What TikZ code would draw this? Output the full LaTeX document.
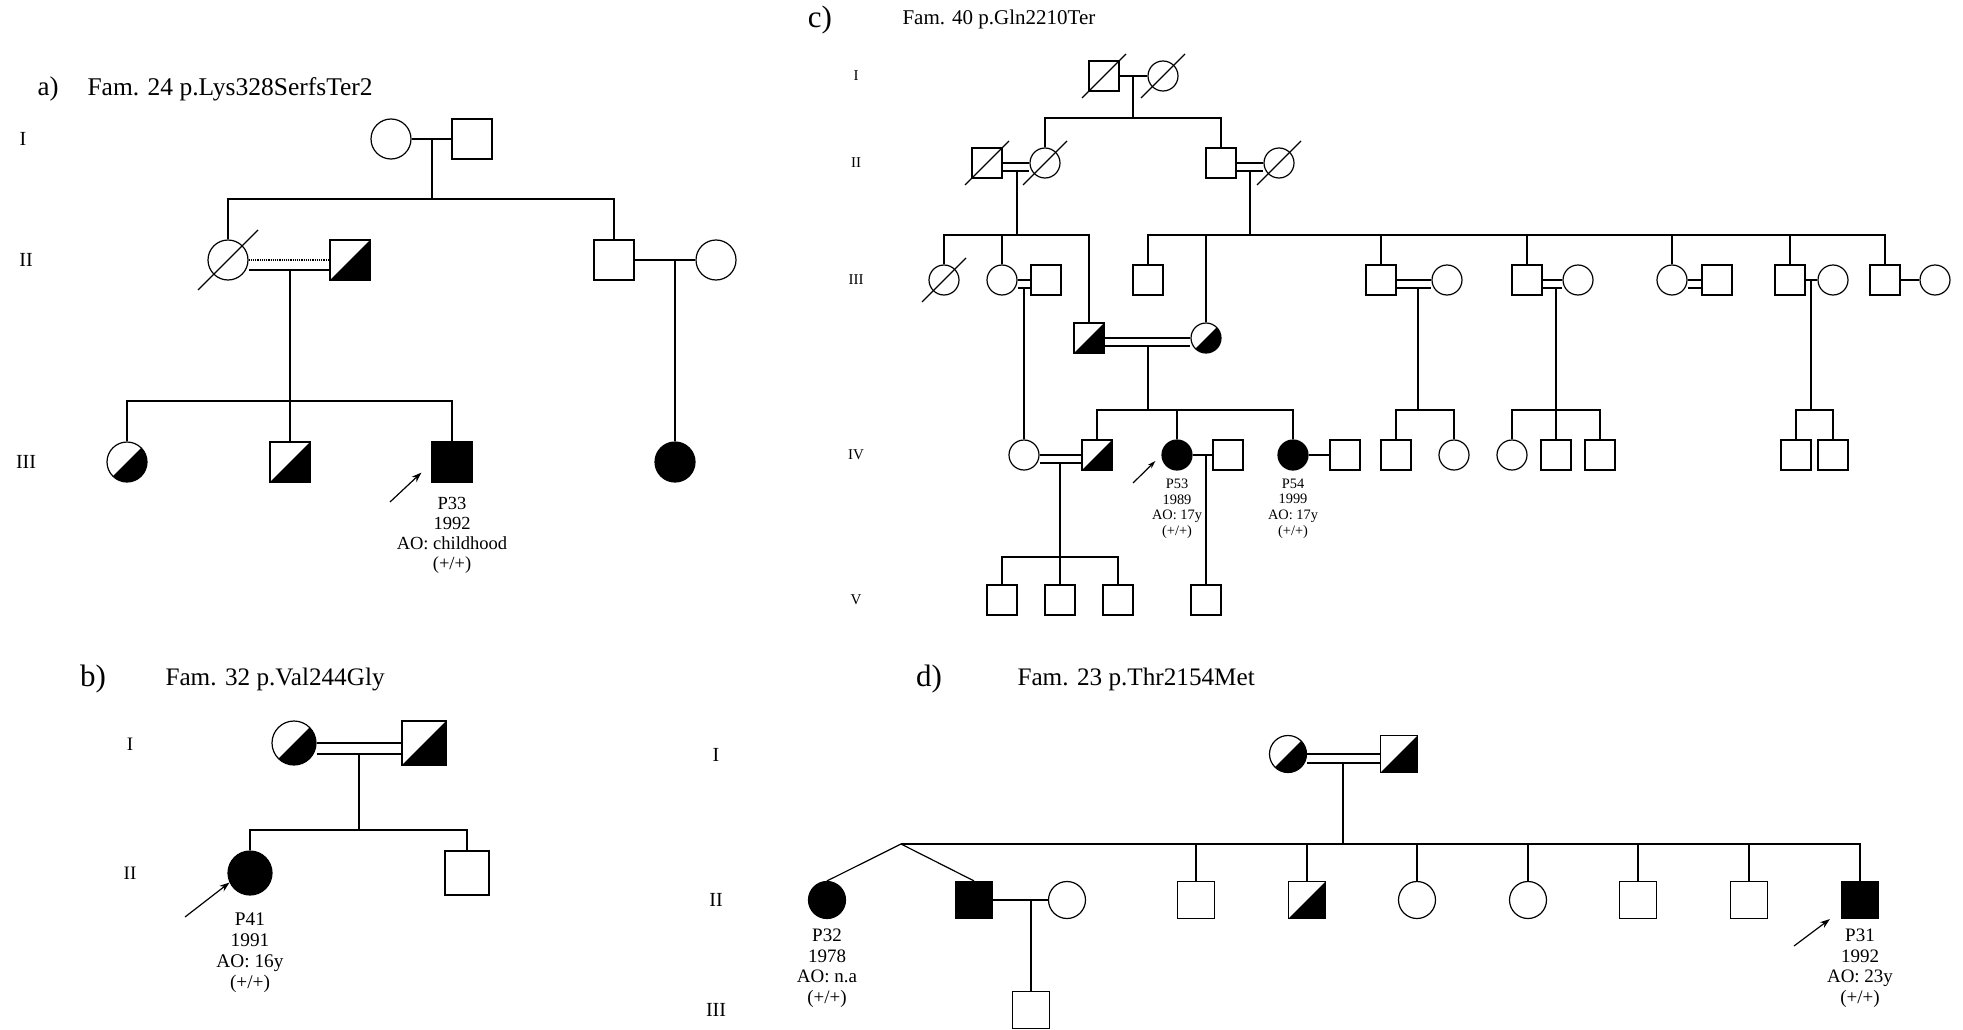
\documentclass[tikz,border=0pt]{standalone}
\usepackage{fontspec}
\setmainfont{Liberation Serif}
\usetikzlibrary{arrows.meta,positioning}

\tikzset{
  sq/.style={draw,rectangle,minimum size=#1,inner sep=0pt,line width=1.2pt},
  ci/.style={draw,circle,minimum size=#1,inner sep=0pt,line width=1.2pt},
  aff/.style={fill=black},
  car/.style={path picture={\fill (path picture bounding box.south west) -- (path picture bounding box.north east) -- (path picture bounding box.south east) -- cycle;}},
  rel/.style={line width=1.2pt},
  gen/.style={font=\fontsize{#1}{#1}\selectfont},
  ttl/.style={anchor=west,font=\fontsize{#1}{#1}\selectfont},
  lab/.style={font=\fontsize{#1}{#1}\selectfont},
  info/.style args={#1/#2}{align=center,inner sep=0pt,font=\fontsize{#1}{#2}\selectfont},
  proband/.style={-{Stealth[length=10pt,width=7pt]},line width=1.2pt},
}

\begin{document}
\begin{tikzpicture}[x=1pt,y=-1pt]
\useasboundingbox (0,0) rectangle (1963,1030);

% a)
\node[lab=27] (alab) at (48,89) {a)};
\node[ttl=25.5] (attl) at (84,89) {Fam. 24 p.Lys328SerfsTer2};
\node[gen=20] (ag1) at (23,139) {I};
\node[gen=20] (ag2) at (26,260) {II};
\node[gen=20] (ag3) at (26,462) {III};
\node[ci=40] (aI1) at (391,139) {};
\node[sq=40] (aI2) at (472,139) {};
\node[ci=40] (aII1) at (228,260) {};
\node[sq=40,car] (aII2) at (350,260) {};
\node[sq=40] (aII3) at (614,260) {};
\node[ci=40] (aII4) at (716,260) {};
\node[ci=40,car] (aIII1) at (127,462) {};
\node[sq=40,car] (aIII2) at (290,462) {};
\node[sq=40,aff] (aIII3) at (452,462) {};
\node[ci=40,aff] (aIII4) at (675,462) {};
\coordinate (a1m) at (432,139);
\coordinate (a1s) at (432,199);
\coordinate (a2m) at (290,270);
\coordinate (a2s) at (290,401);
\coordinate (a3m) at (675,260);
\coordinate (aarr) at (390,502);
\draw[rel] (aI1) -- (aI2);
\draw[rel] (a1m) -- (a1s);
\draw[rel] (aII1.north) |- (a1s) -| (aII3.north);
\draw[rel,densely dotted] (aII1.east) -- (aII2.west);
\draw[rel] ([yshift=-10pt]aII1.east) -- ([yshift=-10pt]aII2.west);
\draw[rel] (aII1.center) +(-30pt,-30pt) -- +(30pt,30pt);
\draw[rel] (a2m) -- (aIII2.north);
\draw[rel] (aIII1.north) |- (a2s) -| (aIII3.north);
\draw[rel] (aII3) -- (aII4);
\draw[rel] (a3m) -- (aIII4.north);
\node[info=18.5/20,below=14pt of aIII3] (aP33) {P33\\1992\\AO: childhood\\(+/+)};
\draw[proband] (aarr) -- ([shift={(-10pt,10pt)}]aIII3.south west);

% b)
\node[lab=31] (blab) at (93,679) {b)};
\node[ttl=25.2] (bttl) at (162,679) {Fam. 32 p.Val244Gly};
\node[gen=19] (bg1) at (130,744) {I};
\node[gen=19] (bg2) at (130,873) {II};
\node[ci=44,car] (bI1) at (294,743) {};
\node[sq=44,car] (bI2) at (424,743) {};
\node[ci=44,aff] (bII1) at (250,873) {};
\node[sq=44] (bII2) at (467,873) {};
\coordinate (b1m) at (359,754);
\coordinate (b1s) at (359,830);
\coordinate (barr) at (185,917);
\draw[rel] (bI1) -- (bI2);
\draw[rel] ([yshift=-11pt]bI1.east) -- ([yshift=-11pt]bI2.west);
\draw[rel] (b1m) -- (b1s);
\draw[rel] (bII1.north) |- (b1s) -| (bII2.north);
\node[info=19.3/21,below=17pt of bII1] (bP41) {P41\\1991\\AO: 16y\\(+/+)};
\draw[proband] (barr) -- (bII1.205);

% c)
\node[lab=31] (clab) at (820,20) {c)};
\node[ttl=21] (cttl) at (899,19) {Fam. 40 p.Gln2210Ter};
\node[gen=15] (cg1) at (856,76) {I};
\node[gen=15] (cg2) at (856,163) {II};
\node[gen=15] (cg3) at (856,280) {III};
\node[gen=15] (cg4) at (856,455) {IV};
\node[gen=15] (cg5) at (856,600) {V};
\node[sq=30] (cI1) at (1104,76) {};
\node[ci=30] (cI2) at (1163,76) {};
\node[sq=30] (cII1) at (987,163) {};
\node[ci=30] (cII2) at (1045,163) {};
\node[sq=30] (cII3) at (1221,163) {};
\node[ci=30] (cII4) at (1279,163) {};
\node[ci=30] (cIII1) at (944,280) {};
\node[ci=30] (cIII2) at (1002,280) {};
\node[sq=30] (cIII3) at (1046,280) {};
\node[sq=30,car] (cIII4) at (1089,338) {};
\node[ci=30,car] (cIII5) at (1206,338) {};
\node[sq=30] (cIII6) at (1148,280) {};
\node[sq=30] (cIII7) at (1381,280) {};
\node[ci=30] (cIII8) at (1447,280) {};
\node[sq=30] (cIII9) at (1527,280) {};
\node[ci=30] (cIII10) at (1578,280) {};
\node[ci=30] (cIII11) at (1672,280) {};
\node[sq=30] (cIII12) at (1717,280) {};
\node[sq=30] (cIII13) at (1790,280) {};
\node[ci=30] (cIII14) at (1833,280) {};
\node[sq=30] (cIII15) at (1885,280) {};
\node[ci=30] (cIII16) at (1935,280) {};
\node[ci=30] (cIV1) at (1024,455) {};
\node[sq=30,car] (cIV2) at (1097,455) {};
\node[ci=30,aff] (cIV3) at (1177,455) {};
\node[sq=30] (cIV4) at (1228,455) {};
\node[ci=30,aff] (cIV5) at (1293,455) {};
\node[sq=30] (cIV6) at (1345,455) {};
\node[sq=30] (cIV7) at (1396,455) {};
\node[ci=30] (cIV8) at (1454,455) {};
\node[ci=30] (cIV9) at (1512,455) {};
\node[sq=30] (cIV10) at (1556,455) {};
\node[sq=30] (cIV11) at (1600,455) {};
\node[sq=30] (cIV12) at (1796,455) {};
\node[sq=30] (cIV13) at (1833,455) {};
\node[sq=30] (cV1) at (1002,600) {};
\node[sq=30] (cV2) at (1060,600) {};
\node[sq=30] (cV3) at (1118,600) {};
\node[sq=30] (cV4) at (1206,600) {};
\coordinate (c1m) at (1133,76);
\coordinate (c1s) at (1133,118);
\coordinate (c2m) at (1017,171);
\coordinate (c2s) at (1017,235);
\coordinate (c3m) at (1250,171);
\coordinate (c3s) at (1250,235);
\coordinate (c4m) at (1024,288);
\coordinate (c5m) at (1148,346);
\coordinate (c5s) at (1148,410);
\coordinate (c6m) at (1418,288);
\coordinate (c6s) at (1418,410);
\coordinate (c7m) at (1556,288);
\coordinate (c7s) at (1556,410);
\coordinate (c8m) at (1811,280);
\coordinate (c8s) at (1811,410);
\coordinate (c9m) at (1060,463);
\coordinate (c9s) at (1060,557);
\coordinate (c10m) at (1206,455);
\coordinate (carr) at (1133,483);
\foreach \n in {cI1,cI2,cII1,cII2,cII4,cIII1}
  \draw[rel] (\n.center) +(-22pt,-22pt) -- +(22pt,22pt);
\draw[rel] (cI1) -- (cI2);
\draw[rel] (c1m) -- (c1s);
\draw[rel] (cII2.north) |- (c1s) -| (cII3.north);
\foreach \a/\b in {cII1/cII2,cII3/cII4,cIII2/cIII3,cIII4/cIII5,cIII7/cIII8,cIII9/cIII10,cIII11/cIII12,cIV1/cIV2} {
  \draw[rel] (\a) -- (\b);
  \draw[rel] ([yshift=-8pt]\a.east) -- ([yshift=-8pt]\b.west);
}
\foreach \a/\b in {cIII13/cIII14,cIII15/cIII16,cIV3/cIV4,cIV5/cIV6}
  \draw[rel] (\a) -- (\b);
\draw[rel] (c2m) -- (c2s);
\draw[rel] (c3m) -- (c3s);
\draw[rel] (cIII1.north) |- (c2s) -| (cIII4.north);
\draw[rel] (cIII2.north) -- (cIII2.north |- c2s);
\draw[rel] (cIII6.north) |- (c3s) -| (cIII15.north);
\foreach \n in {cIII5,cIII7,cIII9,cIII11,cIII13}
  \draw[rel] (\n.north) -- (\n.north |- c3s);
\draw[rel] (c4m) -- (cIV1.north);
\draw[rel] (c5m) -- (c5s);
\draw[rel] (cIV2.north) |- (c5s) -| (cIV5.north);
\draw[rel] (cIV3.north) -- (cIV3.north |- c5s);
\draw[rel] (c6m) -- (c6s);
\draw[rel] (cIV7.north) |- (c6s) -| (cIV8.north);
\draw[rel] (c7m) -- (cIV10.north);
\draw[rel] (cIV9.north) |- (c7s) -| (cIV11.north);
\draw[rel] (c8m) -- (c8s);
\draw[rel] (cIV12.north) |- (c8s) -| (cIV13.north);
\draw[rel] (c9m) -- (cV2.north);
\draw[rel] (cV1.north) |- (c9s) -| (cV3.north);
\draw[rel] (c10m) -- (cV4.north);
\node[info=14.4/15.7,below=8pt of cIV3] (cP53) {P53\\1989\\AO: 17y\\(+/+)};
\node[info=14.4/15.7,below=8pt of cIV5] (cP54) {P54\\1999\\AO: 17y\\(+/+)};
\draw[proband,-{Stealth[length=8pt,width=5pt]}] (carr) -- ([shift={(-6pt,-6pt)}]cIV3.west);

% d)
\node[lab=31] (dlab) at (929,679) {d)};
\node[ttl=25.2] (dttl) at (1014,679) {Fam. 23 p.Thr2154Met};
\node[gen=20] (dg1) at (716,755) {I};
\node[gen=20] (dg2) at (716,900) {II};
\node[gen=20] (dg3) at (716,1010) {III};
\node[ci=37,car] (dI1) at (1288,754) {};
\node[sq=37,car] (dI2) at (1399,754) {};
\node[ci=37,aff] (dII1) at (827,900) {};
\node[sq=37,aff] (dII2) at (974,900) {};
\node[ci=37] (dII3) at (1067,900) {};
\node[sq=37] (dII4) at (1196,900) {};
\node[sq=37,car] (dII5) at (1307,900) {};
\node[ci=37] (dII6) at (1417,900) {};
\node[ci=37] (dII7) at (1528,900) {};
\node[sq=37] (dII8) at (1638,900) {};
\node[sq=37] (dII9) at (1749,900) {};
\node[sq=37,aff] (dII10) at (1860,900) {};
\node[sq=37] (dIII1) at (1031,1010) {};
\coordinate (d1m) at (1343,763);
\coordinate (d1s) at (1343,844);
\coordinate (dtw) at (901,844);
\coordinate (d2m) at (1031,900);
\coordinate (darr) at (1794,946);
\draw[rel] (dI1) -- (dI2);
\draw[rel] ([yshift=-9pt]dI1.east) -- ([yshift=-9pt]dI2.west);
\draw[rel] (d1m) -- (d1s);
\draw[rel] (dtw) -| (dII10.north);
\draw[rel] (dII1.north) -- (dtw) -- (dII2.north);
\foreach \n in {dII4,dII5,dII6,dII7,dII8,dII9}
  \draw[rel] (\n.north) -- (\n.north |- dtw);
\draw[rel] (dII2) -- (dII3);
\draw[rel] (d2m) -- (dIII1.north);
\node[info=19/20.5,below=10pt of dII1] (dP32) {P32\\1978\\AO: n.a\\(+/+)};
\node[info=19/20.5,below=10pt of dII10] (dP31) {P31\\1992\\AO: 23y\\(+/+)};
\draw[proband] (darr) -- ([xshift=-11pt]dII10.south west);
\end{tikzpicture}
\end{document}
